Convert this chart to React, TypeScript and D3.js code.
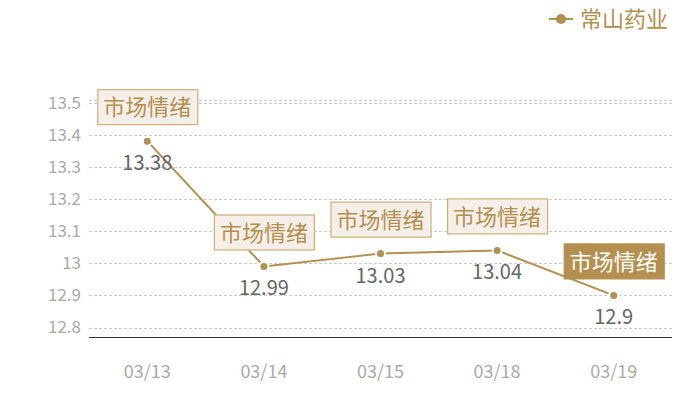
import React from "react";
import { select, scaleBand, scaleLinear, line } from "d3";

const categories = ["03/13", "03/14", "03/15", "03/18", "03/19"];
const values = [13.38, 12.99, 13.03, 13.04, 12.9];
const yTicks = [12.8, 12.9, 13, 13.1, 13.2, 13.3, 13.4, 13.5];
const seriesName = "常山药业";
const markLabel = "市场情绪";
// which mark gets the filled style
const highlighted = [false, false, false, false, true];

const GOLD = "#b58f4f";
const FONT = "'Noto Sans CJK SC', 'Noto Sans', sans-serif";

export default function App() {
  const svgRef = React.useRef<SVGSVGElement>(null);

  React.useEffect(() => {
    const svg = select(svgRef.current);
    svg.selectAll("*").remove();

    const margin = { top: 100, left: 89, right: 28, bottom: 62.5 };
    const width = 700;
    const height = 400;

    const x = scaleBand()
      .domain(categories)
      .range([margin.left, width - margin.right]);
    const y = scaleLinear()
      .domain([12.769, 13.508])
      .range([height - margin.bottom, margin.top]);

    const cx = (i: number) => (x(categories[i]) as number) + x.bandwidth() / 2;

    // grid
    svg
      .append("g")
      .selectAll("line")
      .data([...yTicks, 13.508])
      .join("line")
      .attr("x1", margin.left)
      .attr("x2", width - margin.right)
      .attr("y1", (d) => Math.round(y(d)) + 0.5)
      .attr("y2", (d) => Math.round(y(d)) + 0.5)
      .attr("stroke", "#ccc")
      .attr("stroke-dasharray", "3,2");

    // y labels
    svg
      .append("g")
      .selectAll("text")
      .data(yTicks)
      .join("text")
      .attr("x", margin.left - 8)
      .attr("y", (d) => y(d))
      .attr("dy", "0.35em")
      .attr("text-anchor", "end")
      .attr("fill", "#aaa")
      .attr("font-size", 17)
      .attr("font-family", FONT)
      .text((d) => String(d));

    // x axis line
    svg
      .append("line")
      .attr("x1", margin.left)
      .attr("x2", width - margin.right)
      .attr("y1", height - margin.bottom)
      .attr("y2", height - margin.bottom)
      .attr("stroke", "#333")
      .attr("stroke-width", 1.2);

    svg
      .append("g")
      .selectAll("text")
      .data(categories)
      .join("text")
      .attr("x", (_, i) => cx(i))
      .attr("y", 372)
      .attr("dy", "0.35em")
      .attr("text-anchor", "middle")
      .attr("fill", "#aaa")
      .attr("font-size", 18)
      .attr("font-family", FONT)
      .text((d) => d);

    // series line
    const pts = values.map((v, i) => [cx(i), y(v)] as [number, number]);
    svg
      .append("path")
      .attr("d", line()(pts))
      .attr("fill", "none")
      .attr("stroke", GOLD)
      .attr("stroke-width", 2);

    svg
      .append("g")
      .selectAll("circle")
      .data(pts)
      .join("circle")
      .attr("cx", (d) => d[0])
      .attr("cy", (d) => d[1])
      .attr("r", 4.5)
      .attr("fill", GOLD)
      .attr("stroke", "#fff")
      .attr("stroke-width", 2);

    // value labels
    svg
      .append("g")
      .selectAll("text")
      .data(values)
      .join("text")
      .attr("x", (_, i) => cx(i))
      .attr("y", (d) => y(d) + 22)
      .attr("dy", "0.35em")
      .attr("text-anchor", "middle")
      .attr("fill", "#666")
      .attr("font-size", 20)
      .attr("font-family", FONT)
      .text((d) => String(d));

    // mark labels
    const bw = 100;
    const bh = 35;
    const marks = svg
      .append("g")
      .selectAll("g")
      .data(values)
      .join("g")
      .attr(
        "transform",
        (d, i) => `translate(${cx(i) - bw / 2},${y(d) - 17 - bh})`
      );
    marks
      .append("rect")
      .attr("x", 0.5)
      .attr("y", 0.5)
      .attr("width", bw)
      .attr("height", bh)
      .attr("fill", (_, i) => (highlighted[i] ? GOLD : "#f4efe8"))
      .attr("stroke", (_, i) => (highlighted[i] ? GOLD : "#cfae78"))
      .attr("stroke-width", 1.2);
    marks
      .append("text")
      .attr("x", bw / 2)
      .attr("y", bh / 2 + 1)
      .attr("dy", "0.35em")
      .attr("text-anchor", "middle")
      .attr("fill", (_, i) => (highlighted[i] ? "#fff" : GOLD))
      .attr("font-size", 22)
      .attr("font-family", FONT)
      .text(markLabel);

    // legend
    const lg = svg.append("g").attr("transform", "translate(549,19)");
    lg.append("line")
      .attr("x1", 0)
      .attr("x2", 24)
      .attr("stroke", GOLD)
      .attr("stroke-width", 2);
    lg.append("circle").attr("cx", 12).attr("r", 5).attr("fill", GOLD);
    lg.append("text")
      .attr("x", 31)
      .attr("dy", "0.35em")
      .attr("fill", GOLD)
      .attr("font-size", 22)
      .attr("font-family", FONT)
      .text(seriesName);
  }, []);

  return (
    <svg
      ref={svgRef}
      width={700}
      height={400}
      style={{ position: "absolute", left: 0, top: 0, background: "#fff" }}
    />
  );
}
